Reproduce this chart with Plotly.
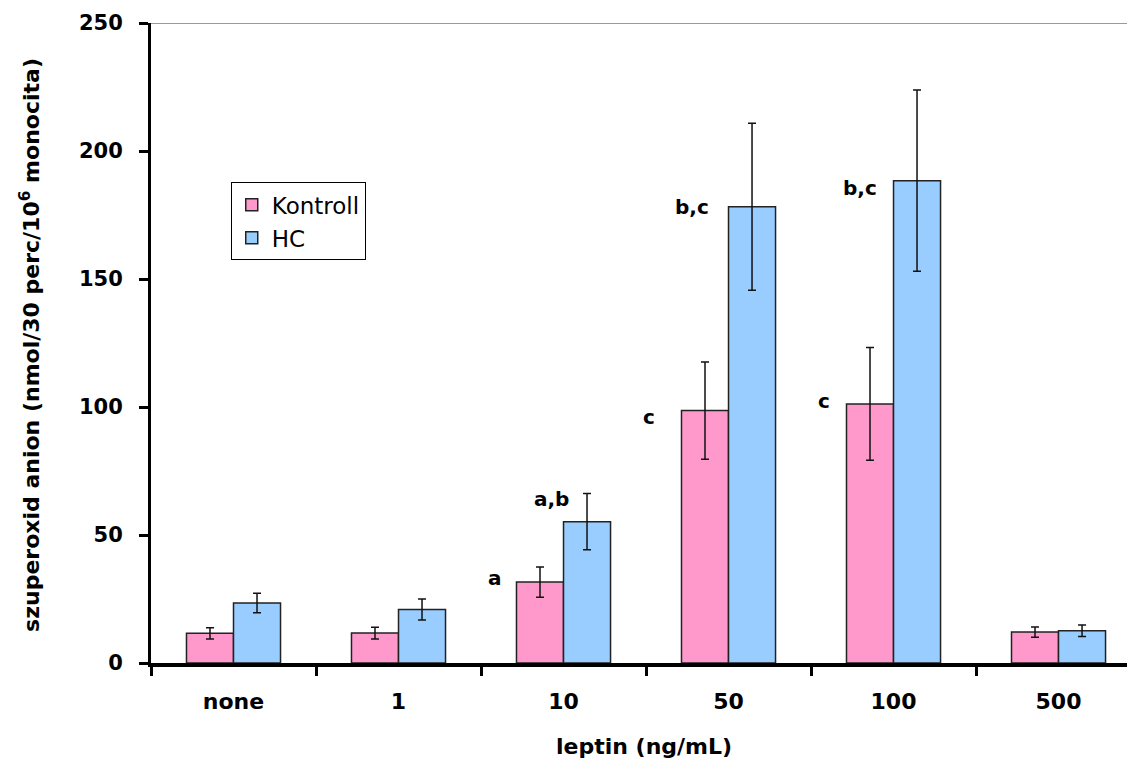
import plotly.graph_objects as go

# Leptin doses and measured superoxide anion production
doses = ["none", "1", "10", "50", "100", "500"]
kontroll = [11.6, 11.7, 31.6, 98.6, 101.2, 12.1]
kontroll_err = [2.2, 2.3, 5.9, 19.0, 22.0, 2.0]
hc = [23.4, 20.9, 55.2, 178.2, 188.4, 12.6]
hc_err = [3.8, 4.1, 11.0, 32.6, 35.4, 2.2]

# Significance letters: (dose index, bar value, label, x offset in category units, y nudge)
sig_labels = [
    (2, 31.6, "a", -0.415, 1.5),
    (2, 55.2, "a,b", -0.07, 9.0),
    (3, 98.6, "c", -0.482, -2.5),
    (3, 178.2, "b,c", -0.223, 0.0),
    (4, 188.4, "b,c", -0.203, -3.0),
    (4, 101.2, "c", -0.421, 1.0),
]

FONT = "DejaVu Sans"

fig = go.Figure()
fig.add_trace(go.Bar(
    name="Kontroll", x=doses, y=kontroll,
    marker=dict(color="#FF99CC", line=dict(color="#222222", width=1.5)),
    error_y=dict(type="data", array=kontroll_err, color="#111111", thickness=1.5, width=4),
))
fig.add_trace(go.Bar(
    name="HC", x=doses, y=hc,
    marker=dict(color="#99CCFF", line=dict(color="#222222", width=1.5)),
    error_y=dict(type="data", array=hc_err, color="#111111", thickness=1.5, width=4),
))

annotations = []
for idx, val, text, dx, dy in sig_labels:
    annotations.append(dict(
        x=idx + dx, y=val + dy, xref="x", yref="y", text=text, showarrow=False,
        font=dict(family=FONT, size=20, color="black", weight="bold"),
        xanchor="center", yanchor="middle",
    ))

annotations.append(dict(
    x=0.505, y=-0.131, xref="paper", yref="paper", text="leptin (ng/mL)",
    showarrow=False, xanchor="center", yanchor="middle",
    font=dict(family=FONT, size=22, color="black", weight="bold"),
))
annotations.append(dict(
    x=-0.124, y=0.497, xref="paper", yref="paper",
    text="szuperoxid anion (nmol/30 perc/10<sup>6</sup> monocita)",
    showarrow=False, xanchor="center", yanchor="middle", textangle=-90,
    font=dict(family=FONT, size=22, color="black", weight="bold"),
))

fig.update_layout(
    width=1127, height=759,
    margin=dict(l=151, r=0, t=23, b=96),
    paper_bgcolor="white", plot_bgcolor="white",
    barmode="group", bargap=0.43, bargroupgap=0,
    showlegend=True,
    legend=dict(
        x=0.0817, y=0.751, xanchor="left", yanchor="top",
        bordercolor="black", borderwidth=1, bgcolor="white",
        font=dict(family=FONT, size=23, color="black"),
        tracegroupgap=4,
    ),
    annotations=annotations,
    shapes=[dict(type="line", xref="paper", yref="y", x0=0, x1=1, y0=250, y1=250,
                 line=dict(color="#9a9a9a", width=2))],
)

fig.update_xaxes(
    type="category", range=[-0.5, 5.415],
    showline=True, linecolor="black", linewidth=4,
    ticks="outside", tickson="boundaries", ticklen=9, tickwidth=3, tickcolor="black",
    ticklabelstandoff=16,
    tickfont=dict(family=FONT, size=22, color="black", weight="bold"),
    showgrid=False, zeroline=False,
)
fig.update_yaxes(
    range=[0, 250], tickvals=[0, 50, 100, 150, 200, 250],
    showline=True, linecolor="black", linewidth=3,
    ticks="outside", ticklen=9, tickwidth=3, tickcolor="black",
    ticklabelstandoff=12,
    tickfont=dict(family=FONT, size=21, color="black", weight="bold"),
    showgrid=False, zeroline=False,
)

fig.write_html("out.html")
